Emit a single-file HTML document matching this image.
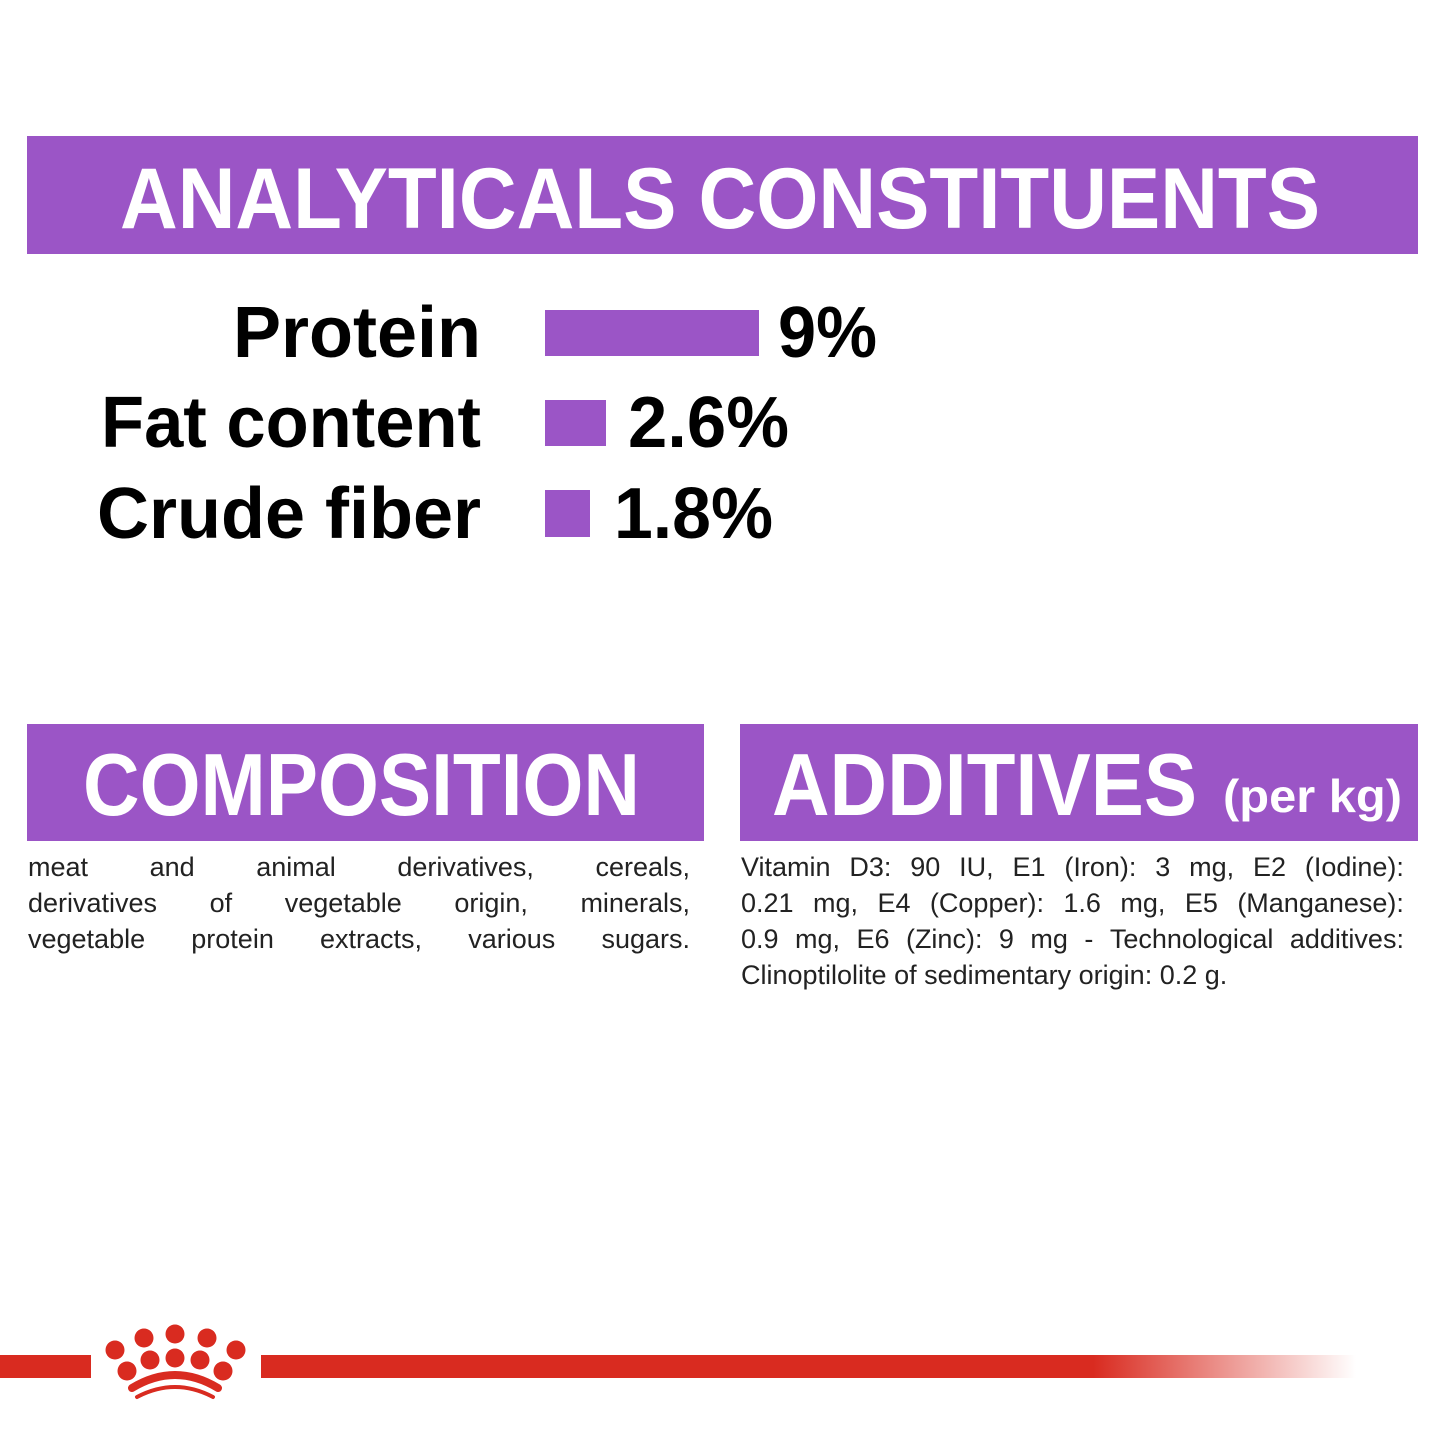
<!DOCTYPE html>
<html><head><meta charset="utf-8"><style>
body{margin:0;background:#fff;width:1445px;height:1445px;overflow:hidden;position:relative;font-family:"Liberation Sans",sans-serif}
svg{position:absolute;left:0;top:0}
.t{position:absolute;font-size:27px;color:#222;line-height:36px}
.l{display:flex;justify-content:space-between;white-space:nowrap}
</style></head><body>
<svg width="1445" height="1445" viewBox="0 0 1445 1445">
<defs><linearGradient id="g" x1="0" x2="1"><stop offset="0" stop-color="#d92b20"/><stop offset="0.76" stop-color="#d92b20"/><stop offset="1" stop-color="#d92b20" stop-opacity="0"/></linearGradient></defs>
<rect x="27" y="136" width="1391" height="118" fill="#9b55c6"/>
<text x="120" y="228" font-size="86" font-weight="bold" fill="#fff" textLength="1200" lengthAdjust="spacingAndGlyphs">ANALYTICALS CONSTITUENTS</text>
<g font-weight="bold" font-size="72" fill="#000">
<text x="481" y="357" text-anchor="end" textLength="248" lengthAdjust="spacingAndGlyphs">Protein</text>
<text x="481" y="447" text-anchor="end" textLength="380" lengthAdjust="spacingAndGlyphs">Fat content</text>
<text x="481" y="538" text-anchor="end" textLength="384" lengthAdjust="spacingAndGlyphs">Crude fiber</text>
<text x="778" y="357" textLength="99" lengthAdjust="spacingAndGlyphs">9%</text>
<text x="628" y="447" textLength="161" lengthAdjust="spacingAndGlyphs">2.6%</text>
<text x="614" y="538" textLength="159" lengthAdjust="spacingAndGlyphs">1.8%</text>
</g>
<rect x="545" y="310" width="214" height="46" fill="#9b55c6"/>
<rect x="545" y="400" width="61" height="46" fill="#9b55c6"/>
<rect x="545" y="490" width="45" height="47" fill="#9b55c6"/>
<rect x="27" y="724" width="677" height="117" fill="#9b55c6"/>
<rect x="740" y="724" width="678" height="117" fill="#9b55c6"/>
<text x="83" y="815" font-size="88" font-weight="bold" fill="#fff" textLength="557" lengthAdjust="spacingAndGlyphs">COMPOSITION</text>
<text x="772" y="815" font-size="88" font-weight="bold" fill="#fff" textLength="425" lengthAdjust="spacingAndGlyphs">ADDITIVES</text>
<text x="1223" y="812" font-size="46" font-weight="bold" fill="#fff" textLength="179" lengthAdjust="spacingAndGlyphs">(per kg)</text>
<rect x="0" y="1355" width="91" height="23" fill="#d92b20"/>
<rect x="261" y="1355" width="1095" height="23" fill="url(#g)"/>
<g fill="#d92b20">
<circle cx="115" cy="1350" r="9.5"/><circle cx="144" cy="1338" r="9.5"/><circle cx="175" cy="1334" r="9.5"/><circle cx="207" cy="1338" r="9.5"/><circle cx="236" cy="1350" r="9.5"/>
<circle cx="127" cy="1371" r="9.5"/><circle cx="150" cy="1360" r="9.5"/><circle cx="175" cy="1358" r="9.5"/><circle cx="200" cy="1360" r="9.5"/><circle cx="223" cy="1371" r="9.5"/>
</g>
<path d="M132 1388 Q175 1362 218 1388" stroke="#d92b20" stroke-width="8" fill="none" stroke-linecap="round"/>
<path d="M137 1397 Q175 1377 213 1397" stroke="#d92b20" stroke-width="4" fill="none" stroke-linecap="round"/>
</svg>
<div class="t" style="left:28px;top:849px;width:662px">
<div class="l"><span>meat</span><span>and</span><span>animal</span><span>derivatives,</span><span>cereals,</span></div>
<div class="l"><span>derivatives</span><span>of</span><span>vegetable</span><span>origin,</span><span>minerals,</span></div>
<div class="l"><span>vegetable</span><span>protein</span><span>extracts,</span><span>various</span><span>sugars.</span></div>
</div>
<div class="t" style="left:741px;top:849px;width:663px">
<div class="l"><span>Vitamin</span><span>D3:</span><span>90</span><span>IU,</span><span>E1</span><span>(Iron):</span><span>3</span><span>mg,</span><span>E2</span><span>(Iodine):</span></div>
<div class="l"><span>0.21</span><span>mg,</span><span>E4</span><span>(Copper):</span><span>1.6</span><span>mg,</span><span>E5</span><span>(Manganese):</span></div>
<div class="l"><span>0.9</span><span>mg,</span><span>E6</span><span>(Zinc):</span><span>9</span><span>mg</span><span>-</span><span>Technological</span><span>additives:</span></div>
<div style="white-space:nowrap">Clinoptilolite of sedimentary origin: 0.2 g.</div>
</div>
</body></html>
